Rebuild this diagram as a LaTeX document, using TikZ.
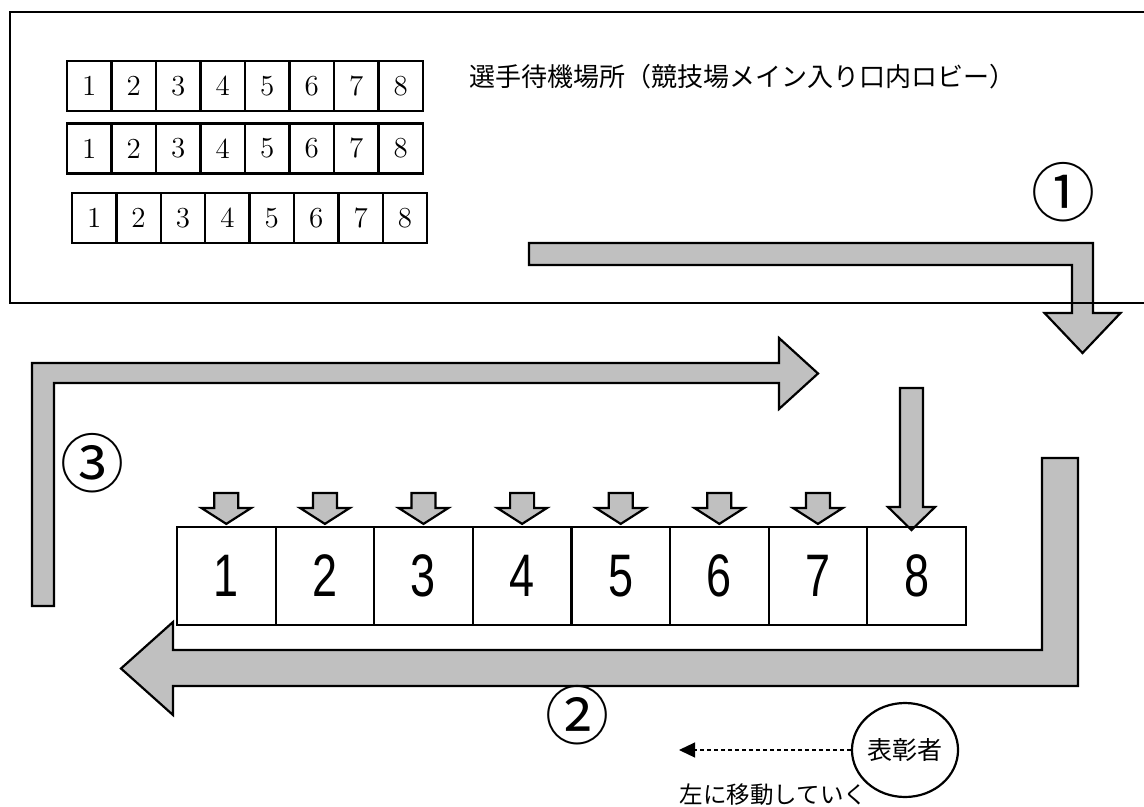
\documentclass[tikz,border=0pt]{standalone}
\usepackage{fontspec}
\usepackage{tikz}
\usetikzlibrary{shapes.geometric,arrows.meta}
\newfontfamily\jpfont{Noto Sans CJK JP}
\newfontfamily\bigdigits[FakeStretch=0.75]{Liberation Sans}

\begin{document}
\begin{tikzpicture}[x=0.5pt, y=-0.5pt, thick]

  % Define Colors
  \definecolor{arrowgray}{RGB}{192,192,192}

  % Node styles
  \tikzstyle{smallcell}=[rectangle, draw, line width=1.1pt, minimum width=22.25pt, minimum height=25pt, inner sep=0pt, font=\fontsize{14.5}{14.5}\selectfont]
  \tikzstyle{bigcell}=[rectangle, draw, line width=1.1pt, minimum width=49.3pt, minimum height=49pt, inner sep=0pt, font=\bigdigits\fontsize{30}{30}\selectfont]
  \tikzstyle{circled}=[inner sep=0pt, font=\jpfont\fontsize{32}{32}\selectfont]
  \tikzstyle{presenter}=[ellipse, draw, line width=1.1pt, minimum width=51pt, minimum height=47pt, inner sep=0pt, font=\jpfont\fontsize{12.5}{12.5}\selectfont]

  \tikzstyle{block_arrow}=[fill=arrowgray, draw=black, line width=1.1pt, line join=miter]
  \tikzstyle{move_path}=[dashed, dash pattern=on 2pt off 1.5pt, line width=0.6pt, -{Triangle[length=8pt,width=7.5pt]}]

  \useasboundingbox (0,0) rectangle (1144,807);

  % Block arrows
  \draw[block_arrow] (529,243) -- (1093,243) -- (1093,313) -- (1120.5,313) -- (1082.5,353) -- (1044.5,313) -- (1072,313) -- (1072,265) -- (529,265) -- cycle;
  \draw[block_arrow] (32,606) -- (32,363) -- (779,363) -- (779,338) -- (818,373.5) -- (779,409) -- (779,383) -- (54,383) -- (54,606) -- cycle;
  \draw[block_arrow] (900,388) -- (923,388) -- (923,507) -- (935,507) -- (911.5,530) -- (888,507) -- (900,507) -- cycle;
  \draw[block_arrow] (1042,458) -- (1078,458) -- (1078,686) -- (173,686) -- (173,715) -- (121,668.5) -- (173,622) -- (173,650) -- (1042,650) -- cycle;

  % Waiting area
  \draw[line width=1.4pt] (1144,12) -- (10,12) -- (10,303) -- (1144,303);
  \node[anchor=west, inner sep=0pt, font=\jpfont\fontsize{13}{13}\selectfont] (area) at (469,77) {選手待機場所（競技場メイン入り口内ロビー）};

  % Nodes
  \foreach \i in {1,...,8} {
    \node[smallcell] (r1_\i) at ({67+44.5*(\i-0.5)},86) {\i};
    \node[smallcell] (r2_\i) at ({67+44.5*(\i-0.5)},148.5) {\i};
    \node[smallcell] (r3_\i) at ({72+44.4*(\i-0.5)},218) {\i};
    \node[bigcell] (b_\i) at ({177+98.6*(\i-0.5)},576) {\i};
  }

  % small arrows
  \foreach \i in {1,...,7} {
    \begin{scope}[shift={(b_\i.north)}]
      \draw[block_arrow] (-12,-33) -- (12,-33) -- (12,-18) -- (25,-18) -- (0,-2) -- (-25,-18) -- (-12,-18) -- cycle;
    \end{scope}
  }

  % Numbers
  \node[circled] (num_1) at (1063,192) {①};
  \node[circled] (num_2) at (577,715) {②};
  \node[circled] (num_3) at (92,463) {③};

  % Presenter
  \node[presenter] (pres) at (905,750) {表彰者};
  \coordinate (move_end) at (679,750);
  \draw[move_path] (pres) -- (move_end);
  \node[anchor=west, inner sep=0pt, font=\jpfont\fontsize{11.75}{11.75}\selectfont] (move_text) at (679,795) {左に移動していく};

\end{tikzpicture}
\end{document}
